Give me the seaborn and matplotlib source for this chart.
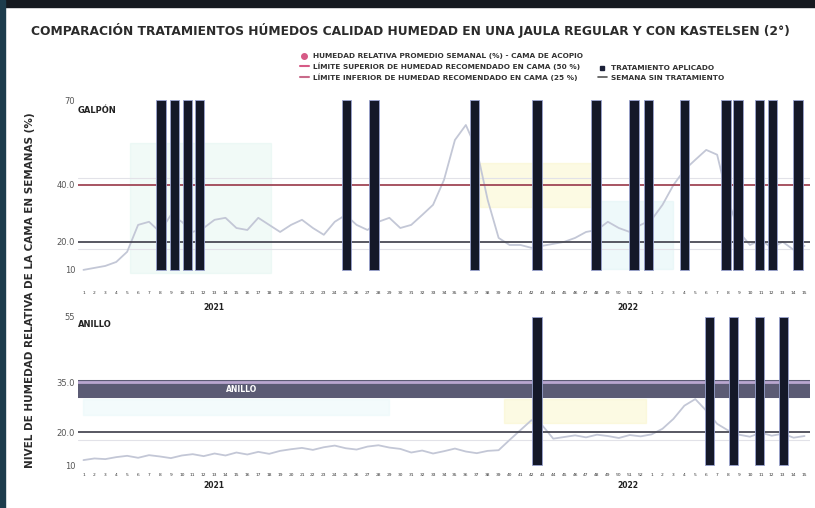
import numpy as np
import pandas as pd
import matplotlib
matplotlib.use("Agg")
import matplotlib.pyplot as plt
from matplotlib.lines import Line2D
from matplotlib.patches import Rectangle
import seaborn as sns

# ---------------- data ----------------
title = "COMPARACIÓN TRATAMIENTOS HÚMEDOS CALIDAD HUMEDAD EN UNA JAULA REGULAR Y CON KASTELSEN (2°)"
ylabel = "NIVEL DE HUMEDAD RELATIVA DE LA CAMA EN SEMANAS (%)"
panel_labels = ["GALPÓN", "ANILLO"]
band_label = "ANILLO"
year_labels = ["2021", "2022"]
year_pos = [11.9, 49.8]

weeks = list(range(0, 67))
galpon_hum = [10, 10.7, 11.4, 12.8, 16.4, 25.9, 27, 23.4, 29.4, 27, 23.4, 24.8, 27.7, 28.4,
              24.8, 24.1, 28.4, 25.9, 23.4, 25.9, 27.7, 24.8, 22.4, 27, 29.4, 25.9, 24.1, 27,
              28.4, 24.8, 25.9, 29.4, 33, 41.8, 55.9, 61.2, 52.4, 34.7, 21.3, 18.8, 18.8, 17.8,
              18.5, 19.2, 19.9, 21.3, 23.4, 24.1, 27, 24.8, 23.4, 25.9, 27.7, 33, 40, 45.3,
              48.9, 52.4, 50.7, 34.7, 23.4, 18.8, 20.6, 17.8, 19.9, 17.1, 18.5]
anillo_hum = [11.5, 12, 11.8, 12.4, 12.8, 12.2, 13, 12.6, 12.1, 12.9, 13.3, 12.7, 13.5, 12.9,
              13.8, 13.2, 14, 13.4, 14.3, 14.8, 15.2, 14.6, 15.4, 15.9, 15.1, 14.7, 15.6, 16,
              15.3, 14.9, 13.8, 14.4, 13.5, 14.2, 15, 14.1, 13.6, 14.3, 14.5, 17.6, 20.6, 23.6,
              22, 18, 18.5, 19, 18.4, 19.2, 18.8, 18.2, 19.1, 18.7, 19.3, 21, 24, 28, 30, 26.5,
              22.5, 20.5, 19.2, 18.6, 19.8, 18.9, 19.5, 18.3, 18.8]

galpon_trat = [7.1, 8.3, 9.5, 10.6, 24.1, 26.6, 35.8, 41.5, 46.9, 50.4, 51.7, 55.0, 58.8,
               59.9, 61.9, 63.1, 65.4]
anillo_trat = [41.5, 57.3, 59.5, 61.9, 64.1]

galpon_ticks = [10, 20, 40, 70]
anillo_ticks = [10, 20, 35, 55]
galpon_upper, galpon_lower = 40, 20
anillo_band, anillo_lower = 33, 20

legend_left = ["HUMEDAD RELATIVA PROMEDIO SEMANAL (%) - CAMA DE ACOPIO",
               "LÍMITE SUPERIOR DE HUMEDAD RECOMENDADO EN CAMA (50 %)",
               "LÍMITE INFERIOR DE HUMEDAD RECOMENDADO EN CAMA (25 %)"]
legend_right = ["TRATAMIENTO APLICADO", "SEMANA SIN TRATAMIENTO"]

# ---------------- style ----------------
sns.set_theme(style="white")
plt.rcParams["font.family"] = ["DejaVu Sans"]

fig = plt.figure(figsize=(8.15, 5.08), dpi=100)
fig.patch.set_facecolor("white")
fig.add_artist(Rectangle((0, 1 - 7 / 508), 1, 7 / 508, transform=fig.transFigure,
                         color="#15191f", zorder=0))
fig.add_artist(Rectangle((0, 0), 5 / 815, 1, transform=fig.transFigure,
                         color="#1d3c4c", zorder=0))

W, H = 815, 508
def axrect(x0, y0, x1, y1):
    return [x0 / W, 1 - y1 / H, (x1 - x0) / W, (y1 - y0) / H]

ax1 = fig.add_axes(axrect(78, 95, 810, 288))
ax2 = fig.add_axes(axrect(78, 312, 810, 470))

bar_color = "#141828"
light = "#c3c7d6"

def draw_panel(ax, hum, trat, ticks, ylim, label):
    ax.set_xlim(-0.5, 66.5)
    ax.set_ylim(*ylim)
    df = pd.DataFrame({"semana": weeks, "hum": hum})
    sns.lineplot(data=df, x="semana", y="hum", ax=ax, color=light, lw=1.3, zorder=2)
    ax.bar(trat, [ticks[-1] - ticks[0]] * len(trat), bottom=ticks[0], width=0.85,
           color=bar_color, edgecolor="#9aa4d0", linewidth=0.6, zorder=4)
    ax.set_yticks(ticks)
    ax.set_yticklabels([f"{t:.1f}" if t not in (ticks[0], ticks[-1]) else f"{t}" for t in ticks],
                       fontsize=6, color="#555555")
    ax.set_xticks(weeks)
    ax.set_xticklabels([str(w % 52 + 1) for w in weeks], fontsize=3.2, color="#333333")
    ax.tick_params(axis="both", length=0, pad=2)
    ax.set_xlabel("")
    ax.set_ylabel("")
    for s in ax.spines.values():
        s.set_visible(False)
    ax.text(0.0, 0.92, label, transform=ax.transAxes, fontsize=6, fontweight="bold",
            color="#222222", ha="left", va="center")
    for yl, yp in zip(year_labels, year_pos):
        ax.text(yp, -0.1, yl, transform=ax.get_xaxis_transform(), fontsize=5.5,
                fontweight="bold", color="#222222", ha="center", va="center")

draw_panel(ax1, galpon_hum, galpon_trat, galpon_ticks, (3.6, 71.8), panel_labels[0])
draw_panel(ax2, anillo_hum, anillo_trat, anillo_ticks, (8.5, 56.4), panel_labels[1])

# pastel shading
ax1.axvspan(4.3, 17.2, ymin=0.08, ymax=0.75, color="#d8f3ea", alpha=0.35, zorder=0)
ax1.axvspan(36.3, 47.0, ymin=0.42, ymax=0.65, color="#fbf6c8", alpha=0.5, zorder=0)
ax1.axvspan(47.0, 54.0, ymin=0.1, ymax=0.45, color="#dff4f6", alpha=0.5, zorder=0)
ax2.axvspan(38.5, 51.5, ymin=0.3, ymax=0.45, color="#fbf6c8", alpha=0.5, zorder=0)
ax2.axvspan(0, 28, ymin=0.35, ymax=0.45, color="#e3f6f8", alpha=0.4, zorder=0)

# reference lines
ax1.axhline(galpon_upper, color="#a04656", lw=1.3, zorder=3)
ax1.axhline(galpon_upper + 2.5, color="#e2e2e8", lw=0.8, zorder=1)
ax1.axhline(galpon_lower, color="#4a4a55", lw=1.3, zorder=3)
ax1.axhline(galpon_lower - 2.5, color="#e2e2e8", lw=0.8, zorder=1)
ax2.axhline(anillo_lower, color="#4a4a55", lw=1.3, zorder=3)
ax2.axhline(anillo_lower - 2.5, color="#e2e2e8", lw=0.8, zorder=1)
ax2.axhline(anillo_band, color="#5b5b74", lw=13, zorder=3, solid_capstyle="butt")
ax2.axhline(anillo_band + 2.3, color="#b9a6cf", lw=2, zorder=3)
ax2.text(14.5, anillo_band, band_label, color="white", fontsize=5.5, fontweight="bold",
         ha="center", va="center", zorder=5)

# title and y label
fig.text(410 / W, 1 - 30 / H, title, ha="center", va="center", fontsize=8.8,
         fontweight="bold", color="#2b2b2b")
fig.text(30 / W, 1 - 290 / H, ylabel, rotation=90, ha="center", va="center",
         fontsize=7.5, fontweight="bold", color="#2b2b2b")

# legends
pink = "#d65a86"
h_left = [Line2D([], [], marker="o", color=pink, lw=0, markersize=4),
          Line2D([], [], color=pink, lw=1.5),
          Line2D([], [], color="#c86a8a", lw=1.5)]
h_right = [Line2D([], [], marker="s", color="#1b2038", lw=0, markersize=3.5),
           Line2D([], [], color="#555555", lw=1.2)]
kw = dict(frameon=False, fontsize=5.3, handlelength=1.2, labelspacing=0.45,
          handletextpad=0.6, borderaxespad=0, borderpad=0, loc="upper left")
leg1 = fig.legend(h_left, legend_left, bbox_to_anchor=(300 / W, 1 - 53 / H), **kw)
leg2 = fig.legend(h_right, legend_right, bbox_to_anchor=(598 / W, 1 - 65 / H), **kw)
for leg in (leg1, leg2):
    for t in leg.get_texts():
        t.set_fontweight("bold"); t.set_color("#333333")

fig.savefig("out.png", dpi=100)
